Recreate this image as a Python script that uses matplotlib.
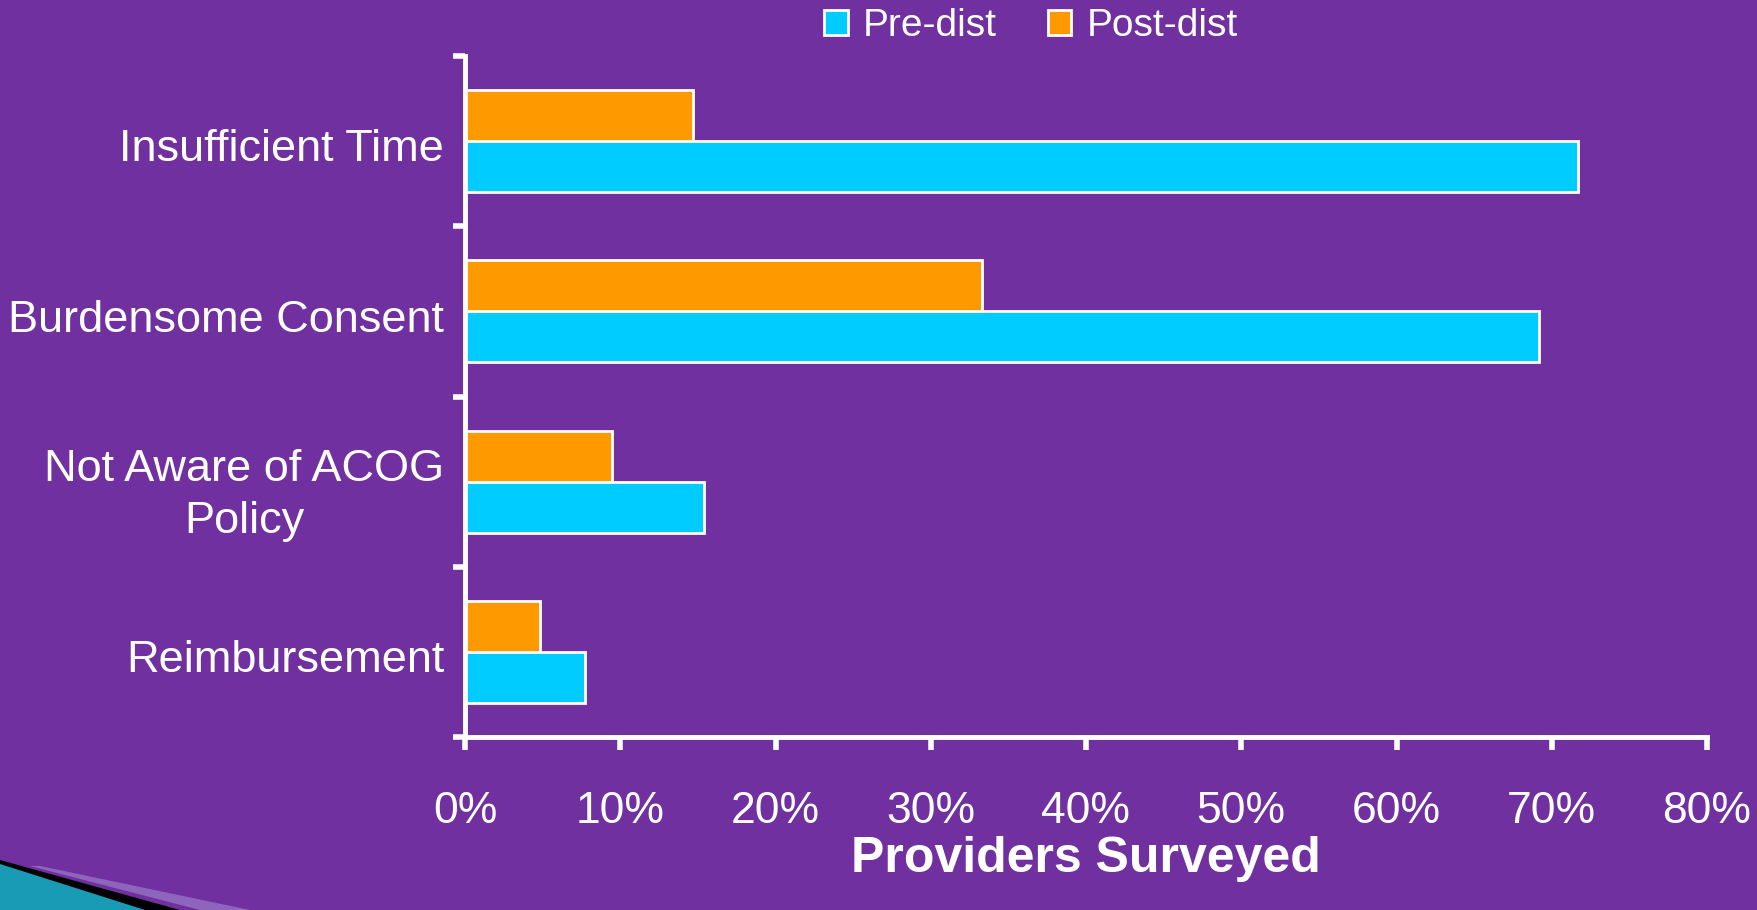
import matplotlib.pyplot as plt
import matplotlib.patches as mpatches
import matplotlib.transforms as mtransforms
import numpy as np

# Barrier categories, bottom to top
categories = ["Reimbursement", "Not Aware of ACOG\nPolicy", "Burdensome Consent", "Insufficient Time"]
pre_dist = [7.7, 15.4, 69.2, 71.7]
post_dist = [4.8, 9.5, 33.3, 14.7]
x_ticks = [0, 10, 20, 30, 40, 50, 60, 70, 80]
x_tick_labels = ["0%", "10%", "20%", "30%", "40%", "50%", "60%", "70%", "80%"]

purple = "#7030A0"
cyan = "#00CCFF"
orange = "#FF9900"

plt.rcParams['font.family'] = ['Liberation Sans', 'DejaVu Sans']

W, H = 1757, 910
fig = plt.figure(figsize=(W / 100, H / 100), dpi=100, facecolor=purple)
ax = fig.add_axes([465 / W, 1 - 737 / H, (1707 - 465) / W, (737 - 56) / H])
ax.set_facecolor(purple)

y = np.arange(len(categories))
h = 0.3
ax.barh(y - h / 2, pre_dist, height=h, color=cyan, edgecolor="white", linewidth=2, label="Pre-dist")
ax.barh(y + h / 2, post_dist, height=h, color=orange, edgecolor="white", linewidth=2, label="Post-dist")

ax.set_xlim(0, 80)
ax.set_ylim(-0.5, len(categories) - 0.5)

ax.set_xticks(x_ticks)
ax.set_xticklabels(x_tick_labels)
ax.tick_params(axis="x", colors="white", labelsize=32, length=9, width=4, pad=30, direction="out")

# category labels at centers, tick marks at the boundaries
ax.set_yticks(y)
ax.set_yticklabels(categories, multialignment="center", linespacing=1.35)
ax.tick_params(axis="y", which="major", colors="white", labelsize=32.5, length=0, pad=15)
ax.set_yticks(np.arange(-0.5, len(categories)), minor=True)
ax.tick_params(axis="y", which="minor", colors="white", length=9, width=4, direction="out")
shift = mtransforms.ScaledTranslation(0, -3 / 72, fig.dpi_scale_trans)
for lab in ax.get_yticklabels():
    lab.set_va("center_baseline")
    lab.set_transform(lab.get_transform() + shift)

for side in ["top", "right"]:
    ax.spines[side].set_visible(False)
for side in ["left", "bottom"]:
    ax.spines[side].set_color("white")
    ax.spines[side].set_linewidth(3.5)

ax.set_xlabel("Providers Surveyed", color="white", fontsize=36, fontweight="bold", labelpad=3)

handles = [mpatches.Patch(facecolor=cyan, edgecolor="white", linewidth=2, label="Pre-dist"),
           mpatches.Patch(facecolor=orange, edgecolor="white", linewidth=2, label="Post-dist")]
leg = fig.legend(handles=handles, loc="center", bbox_to_anchor=(1031 / W, 1 - 26 / H), ncol=2,
                 frameon=False, fontsize=28, labelcolor="white", handlelength=0.6, handleheight=0.6,
                 handletextpad=0.4, columnspacing=1.3)

# swoosh decoration in the bottom-left corner
def px(pts):
    return [(a / W, 1 - b / H) for a, b in pts]

fig.patches.append(mpatches.Polygon(px([(40, 866), (250, 910), (200, 910), (30, 866)]), closed=True,
                                    transform=fig.transFigure, facecolor="#9a7cc8", edgecolor="none",
                                    alpha=0.7))
fig.patches.append(mpatches.Polygon(px([(0, 860), (180, 910), (0, 910)]), closed=True,
                                    transform=fig.transFigure, facecolor="black", edgecolor="none"))
fig.patches.append(mpatches.Polygon(px([(0, 864), (145, 910), (0, 910)]), closed=True,
                                    transform=fig.transFigure, facecolor="#1a9bb5", edgecolor="none"))

fig.savefig("out.png", dpi=100, facecolor=purple)
